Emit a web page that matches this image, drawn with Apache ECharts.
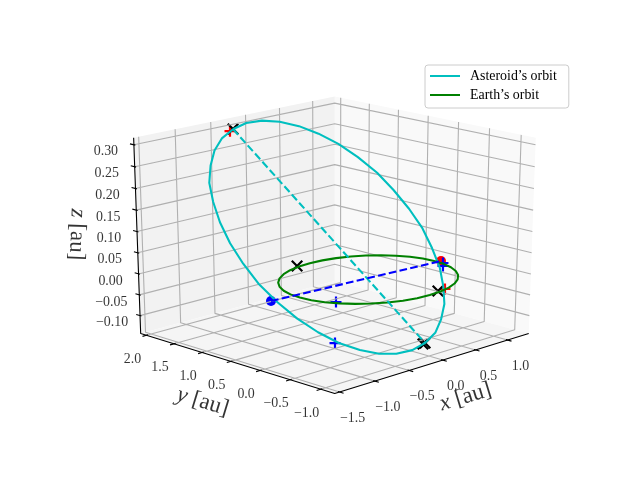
<!DOCTYPE html>
<html><head><meta charset="utf-8">
<style>html,body{margin:0;padding:0;background:#fff}#chart{width:640px;height:480px}</style>
<script src="https://cdn.jsdelivr.net/npm/echarts@6/dist/echarts.min.js"></script>
</head><body><div id="chart"></div>
<script>
// values in au
const asteroidX = [-0.41,-0.20,0.01,0.22,0.42,0.60,0.76,0.89,0.99,1.05,1.08,1.07,1.02,0.94,0.82,0.68,0.51,0.32,0.11,-0.10,-0.32,-0.53,-0.72,-0.91,-1.06,-1.19,-1.29,-1.36,-1.38,-1.37,-1.32,-1.24,-1.13,-0.98,-0.81,-0.62,-0.41];
const asteroidY = [1.82,1.85,1.83,1.77,1.67,1.54,1.38,1.19,0.97,0.75,0.52,0.28,0.06,-0.16,-0.35,-0.52,-0.65,-0.76,-0.82,-0.84,-0.82,-0.77,-0.67,-0.54,-0.37,-0.18,0.03,0.26,0.49,0.72,0.95,1.16,1.36,1.52,1.66,1.76,1.82];
const asteroidZ = [0.305,0.311,0.310,0.302,0.288,0.268,0.243,0.213,0.179,0.142,0.104,0.066,0.028,-0.008,-0.041,-0.070,-0.094,-0.113,-0.125,-0.131,-0.130,-0.122,-0.108,-0.088,-0.063,-0.033,0.001,0.038,0.076,0.114,0.152,0.188,0.221,0.250,0.274,0.293,0.305];
const earthX = [1,0.985,0.94,0.866,0.766,0.643,0.5,0.342,0.174,0,-0.174,-0.342,-0.5,-0.643,-0.766,-0.866,-0.94,-0.985,-1,-0.985,-0.94,-0.866,-0.766,-0.643,-0.5,-0.342,-0.174,0,0.174,0.342,0.5,0.643,0.766,0.866,0.94,0.985,1];
const earthY = [0,0.174,0.342,0.5,0.643,0.766,0.866,0.94,0.985,1,0.985,0.94,0.866,0.766,0.643,0.5,0.342,0.174,0,-0.174,-0.342,-0.5,-0.643,-0.766,-0.866,-0.94,-0.985,-1,-0.985,-0.94,-0.866,-0.766,-0.643,-0.5,-0.342,-0.174,0];
const earthZ = earthX.map(() => 0);

const aphelion = [-0.413,1.823,0.305];
const perihelion = [0.111,-0.819,-0.125];
const nodeBlue = [-1.294,0.133,0];
const nodeRed = [1.05,-0.061,0];
const bluePlus = [[-0.855,-0.43,0],[-0.899,-0.464,-0.092],[1.006,-0.141,0],[0.917,-0.235,0]];
const redPlus = [[-0.465,1.812,0.302],[0.277,-0.948,0]];
const blackCross = [aphelion,[-0.175,1.018,0],[0.171,-0.948,0],perihelion,[0.124,-0.772,-0.13]];

const xTicks = [-1.5,-1,-0.5,0,0.5,1];
const yTicks = [-1,-0.5,0,0.5,1,1.5,2];
const zTicks = [-0.1,-0.05,0,0.05,0.1,0.15,0.2,0.25,0.3];
const xLim = [-1.51,1.28], yLim = [-1.16,2.04], zLim = [-0.134,0.3066];

// same view as the 3d axes: elev 20, azim -135, dist 10
const elev = 20*Math.PI/180, azim = -135*Math.PI/180, dist = 10;
const nv = [Math.cos(elev)*Math.cos(azim),Math.cos(elev)*Math.sin(azim),Math.sin(elev)];
const uv = [-Math.sin(azim),Math.cos(azim),0];
const vv = [nv[1]*uv[2]-nv[2]*uv[1],nv[2]*uv[0]-nv[0]*uv[2],nv[0]*uv[1]-nv[1]*uv[0]];
const norm = (v,l) => (v-l[0])/(l[1]-l[0]);
function project(x,y,z){
  const p = [norm(x,xLim)-.5,norm(y,yLim)-.5,norm(z,zLim)-.5];
  const dot = a => a[0]*p[0]+a[1]*p[1]+a[2]*p[2];
  const d = dist-dot(nv);
  return [dot(uv)/d,dot(vv)/d];
}
const seg = a => a.map(p => project(p[0],p[1],p[2]));
const curve = (xs,ys,zs) => xs.map((x,i) => project(x,ys[i],zs[i]));

const pad = l => [l[0]-(l[1]-l[0])/48,l[1]+(l[1]-l[0])/48];
const X = pad(xLim), Y = pad(yLim), Z = pad(zLim);
const gap = [null,null];
const gridLines = [], tickLines = [];
xTicks.forEach(t => gridLines.push(project(t,Y[0],Z[0]),project(t,Y[1],Z[0]),project(t,Y[1],Z[1]),gap));
yTicks.forEach(t => gridLines.push(project(X[0],t,Z[0]),project(X[1],t,Z[0]),project(X[1],t,Z[1]),gap));
zTicks.forEach(t => gridLines.push(project(X[0],Y[1],t),project(X[1],Y[1],t),project(X[1],Y[0],t),gap));
const yr = yLim[1]-yLim[0], xr = xLim[1]-xLim[0];
xTicks.forEach(t => tickLines.push(project(t,Y[0]-.02*yr,Z[0]),project(t,Y[0]+.008*yr,Z[0]),gap));
yTicks.forEach(t => tickLines.push(project(X[0]-.02*xr,t,Z[0]),project(X[0]+.008*xr,t,Z[0]),gap));
zTicks.forEach(t => tickLines.push(project(X[0],Y[1]+.022*yr,t),project(X[0],Y[1]-.008*yr,t),gap));
const panes = [
  {c:'#f9f9f9',p:[[X[1],Y[0],Z[0]],[X[1],Y[1],Z[0]],[X[1],Y[1],Z[1]],[X[1],Y[0],Z[1]]]},
  {c:'#f2f2f2',p:[[X[0],Y[1],Z[0]],[X[1],Y[1],Z[0]],[X[1],Y[1],Z[1]],[X[0],Y[1],Z[1]]]},
  {c:'#f5f5f5',p:[[X[0],Y[0],Z[0]],[X[1],Y[0],Z[0]],[X[1],Y[1],Z[0]],[X[0],Y[1],Z[0]]]}
];

const fmt2 = t => (t<0?'−':'')+Math.abs(t).toFixed(2);
const fmt1 = t => (t<0?'−':'')+Math.abs(t).toFixed(1);
const line = (data,color,width,name,type) => ({type:'line',name,data,showSymbol:false,symbol:'none',silent:true,
  lineStyle:{color,width,type:type||'solid',join:'round'},itemStyle:{color},connectNulls:false,clip:false});
const labels = (data,offset,size,rotate) => ({type:'scatter',symbolSize:0,silent:true,clip:false,data,
  label:{show:true,position:'inside',align:'center',verticalAlign:'middle',offset,rotate:rotate||0,fontFamily:'Liberation Serif',fontSize:size,color:'#000',
    formatter:p => p.value[2],rich:{i:{fontFamily:'Liberation Serif',fontStyle:'italic',fontSize:size}}}});
const marks = (pts,symbol,color,size,bw) => ({type:'scatter',silent:true,clip:false,data:seg(pts),symbol,symbolSize:size,
  itemStyle:symbol==='circle'?{color,opacity:1}:{color:'none',borderColor:color,borderWidth:bw,opacity:1}});
const PLUS = 'path://M0 10H20M10 0V20', CROSS = 'path://M0 0L20 20M20 0L0 20';

const chart = echarts.init(document.getElementById('chart'));
chart.setOption({animation:false,
  grid:{left:80,width:496,top:57.6,height:369.6},
  xAxis:{type:'value',min:-.095,max:.09,show:false},
  yAxis:{type:'value',min:-.095,max:.09,show:false},
  legend:{left:425,top:65,orient:'vertical',icon:'rect',padding:[4,12,6,5],itemWidth:30,itemHeight:2,itemGap:5,backgroundColor:'#fff',borderColor:'#ccc',borderWidth:1,borderRadius:3,
    textStyle:{fontFamily:'Liberation Serif',fontSize:13.9,color:'#000',padding:[0,0,0,5]},data:["Asteroid’s orbit","Earth’s orbit"]},
  series:[
    {type:'custom',silent:true,clip:false,data:panes.map((_,i) => [i]),renderItem:(pr,api) => {
      const q = panes[api.value(0)];
      return {type:'polygon',shape:{points:q.p.map(c => api.coord(project(c[0],c[1],c[2])))},style:{fill:q.c}};
    }},
    line(gridLines,'#b0b0b0',1.1),
    line(tickLines,'#000',1.1),
    line(seg([[X[0],Y[1],Z[1]],[X[0],Y[1],Z[0]],[X[0],Y[0],Z[0]],[X[1],Y[0],Z[0]]]),'#000',1.1),
    line(curve(asteroidX,asteroidY,asteroidZ),'#00bfbf',2.08,"Asteroid’s orbit"),
    line(curve(earthX,earthY,earthZ),'#008000',2.08,"Earth’s orbit"),
    line(seg([aphelion,perihelion]),'#00bfbf',2.08,'apsides',[7.7,3.3]),
    line(seg([nodeBlue,nodeRed]),'#0000ff',2.08,'nodes',[7.7,3.3]),
    marks([nodeBlue],'circle','#0000ff',10),
    marks([nodeRed],'circle','#ff0000',10),
    marks(redPlus,PLUS,'#ff0000',11,2.2),
    marks(bluePlus,PLUS,'#0000ff',11,2.2),
    marks(blackCross,CROSS,'#000',10.5,2.2),
    labels(xTicks.map(t => [...project(t,Y[0],Z[0]),fmt1(t)]),[13,26],13.9),
    labels(yTicks.map(t => [...project(X[0],t,Z[0]),fmt1(t)]),[-14,24],13.9),
    labels(zTicks.map(t => [...project(X[0],Y[1],t),fmt2(t)]),[-28,7],13.9),
    labels([[...project(0,Y[0],Z[0]),'{i|x} [au]']],[11,42],23,17),
    labels([[...project(X[0],0.5,Z[0]),'{i|y} [au]']],[-15,47],23,-17),
    labels([[...project(X[0],Y[1],0.1),'{i|z} [au]']],[5,60],23,-92)
  ]});
</script></body></html>
